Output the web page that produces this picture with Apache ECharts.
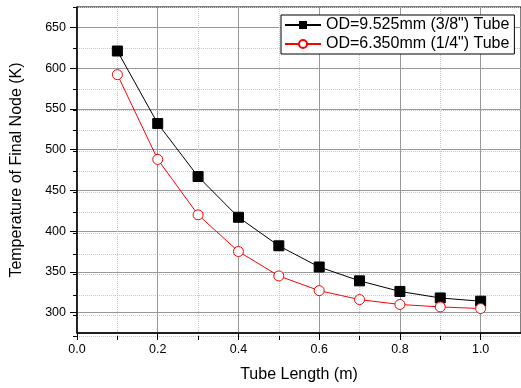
<!DOCTYPE html>
<html>
<head>
<meta charset="utf-8">
<script src="https://cdn.jsdelivr.net/npm/echarts@6/dist/echarts.min.js"></script>
<style>
  html, body { margin: 0; padding: 0; background: #fff; }
  #chart { width: 521px; height: 388px; }
</style>
</head>
<body>
<div id="chart"></div>
<script>
const lengths = [0.1, 0.2, 0.3, 0.4, 0.5, 0.6, 0.7, 0.8, 0.9, 1.0];
const tempLarge = [621, 532, 467, 417, 382, 356, 339, 326, 318, 314];
const tempSmall = [592, 488, 420, 375, 345, 327, 316, 310, 307, 305];
const yMajorTicks = [300, 350, 400, 450, 500, 550, 600, 650];
const seriesNames = ['OD=9.525mm (3/8") Tube', 'OD=6.350mm (1/4") Tube'];

const chart = echarts.init(document.getElementById('chart'), null, { renderer: 'canvas' });
const font = 'Liberation Sans, Arial, sans-serif';
const pairs = vals => lengths.map((x, i) => [x, vals[i]]);

// two grids on the same rect: 0 = minor dotted lines + short ticks, 1 = major lines, labels, data
const gridRect = { left: 77, right: -1, top: 7, bottom: 52 };
const minorLine = { show: true, lineStyle: { color: '#c8c8c8', type: [1, 1], width: 1 } };
const majorLine = { show: true, lineStyle: { color: '#999', width: 1 } };

chart.setOption({
  animation: false,
  textStyle: { fontFamily: font },
  grid: [
    Object.assign({}, gridRect),
    Object.assign({ show: true, borderColor: '#000', borderWidth: 1, backgroundColor: 'transparent' }, gridRect)
  ],
  legend: {
    orient: 'vertical',
    left: 281,
    top: 15,
    itemWidth: 36,
    itemHeight: 10,
    itemGap: 3,
    padding: [2, 5, 2, 3],
    backgroundColor: '#fff',
    borderColor: '#000',
    borderWidth: 1,
    borderRadius: 0,
    textStyle: { fontFamily: font, fontSize: 16, color: '#000' },
    data: seriesNames
  },
  xAxis: [
    {
      gridIndex: 0, type: 'value', min: 0, max: 1.1, interval: 0.1,
      axisLine: { show: false },
      axisTick: { show: true, length: 4, lineStyle: { color: '#000' } },
      axisLabel: { show: false },
      splitLine: minorLine
    },
    {
      gridIndex: 1, type: 'value', min: 0, max: 1.1, interval: 0.2,
      name: 'Tube Length (m)',
      nameLocation: 'middle',
      nameGap: 34,
      nameTextStyle: { fontSize: 16, color: '#000' },
      axisLine: { onZero: false, lineStyle: { color: '#000', width: 1.5 } },
      axisTick: { length: 7, lineStyle: { color: '#000' } },
      axisLabel: { fontSize: 12.5, color: '#000', margin: 10, formatter: v => v.toFixed(1), showMaxLabel: false },
      splitLine: majorLine
    }
  ],
  yAxis: [
    {
      gridIndex: 0, type: 'value', min: 275, max: 675, interval: 25,
      axisLine: { show: false },
      axisTick: { show: true, length: 4, lineStyle: { color: '#000' } },
      axisLabel: { show: false },
      splitLine: minorLine
    },
    {
      gridIndex: 1, type: 'value', min: 275, max: 675, interval: 25,
      name: 'Temperature of Final Node (K)',
      nameLocation: 'middle',
      nameGap: 52,
      nameTextStyle: { fontSize: 16, color: '#000' },
      axisLine: { show: true, onZero: false, lineStyle: { color: '#000', width: 1.5 } },
      axisTick: { show: true, length: 7, customValues: yMajorTicks, lineStyle: { color: '#000' } },
      axisLabel: { fontSize: 12.5, color: '#000', margin: 11, customValues: yMajorTicks },
      splitLine: majorLine
    }
  ],
  series: [
    {
      name: seriesNames[0],
      type: 'line',
      xAxisIndex: 1, yAxisIndex: 1,
      data: pairs(tempLarge),
      symbol: 'rect',
      symbolSize: 10,
      lineStyle: { color: '#000', width: 1 },
      itemStyle: { color: '#000', borderColor: '#000' },
      z: 3
    },
    {
      name: seriesNames[1],
      type: 'line',
      xAxisIndex: 1, yAxisIndex: 1,
      data: pairs(tempSmall),
      symbol: 'circle',
      symbolSize: 10,
      lineStyle: { color: '#f00', width: 1 },
      itemStyle: { color: '#fff', borderColor: '#f00', borderWidth: 1 },
      z: 4
    }
  ]
});
</script>
</body>
</html>
